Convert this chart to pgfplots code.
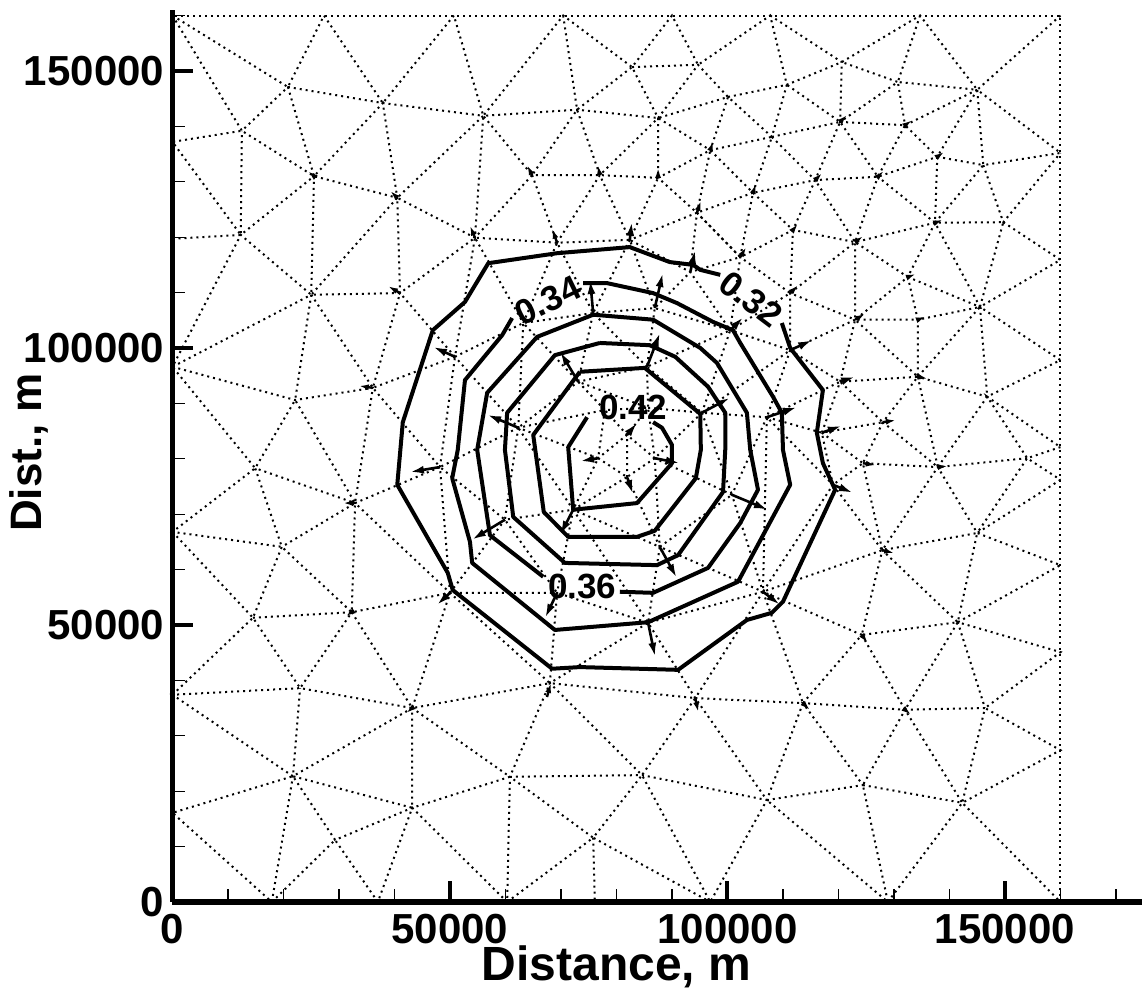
\documentclass[border=0pt]{standalone}
\usepackage{fontspec}
\setmainfont{Liberation Sans}
\usepackage{pgfplots}
\pgfplotsset{compat=1.18}
\usetikzlibrary{arrows.meta}

\newcommand\tickfont{\fontsize{21}{21}\selectfont\bfseries}
\newcommand\xlabfont{\fontsize{24}{24}\selectfont\bfseries}
\newcommand\ylabfont{\fontsize{22}{22}\selectfont\bfseries}
\newcommand\clabfont{\fontsize{17.5}{17.5}\selectfont\bfseries}

% vectors: x y u v (m)
\pgfplotstableread{
x y u v
76700 80100 -3240 -540
86900 80100 4500 -900
81900 76700 1080 -3070
81900 84300 1800 2170
72200 70800 -2340 -4510
87800 64100 3060 -5600
100800 73500 6490 -2710
95400 88300 5050 2710
85500 96600 2340 6140
73100 93900 -3240 5420
62300 85600 -5590 2350
59900 69000 -5950 -3610
69300 55800 -2160 -4510
85700 50400 1260 -6140
106400 56000 3060 -2350
107100 87500 5410 1805
111300 99600 3960 1805
100500 103200 2340 2350
86900 107200 1440 6320
75800 106300 -540 5960
50900 98400 -3960 1805
93300 113700 900 3970
82400 119500 360 3250
48200 78500 -5410 -900
117000 84700 3600 1260
119000 75300 3600 -1440
50000 55800 -2340 -2170
120300 93900 2700 900
}\bigvec
\pgfplotstableread{
x y u v
36100 92800 -2520 360
32900 72000 -2160 0
32300 52300 -1080 -720
43200 35000 -1080 -900
67480 37000 720 2530
94200 36800 540 -2530
113600 35900 1260 -1260
132000 34700 1080 -900
25500 131000 -1080 900
40500 127100 -1260 1260
54500 119900 -900 2170
41000 109900 -2160 1260
64800 131200 -900 1800
77000 131200 -360 1800
87500 130700 0 1800
96900 135700 540 1620
104600 128000 540 1620
94500 124400 720 2170
69300 119000 -900 2530
111800 121300 900 1080
102300 116400 1080 1800
111300 109900 1440 1440
120300 140800 1260 1260
132000 140200 1260 900
137800 134500 1260 900
115800 130300 1260 1260
127100 130900 1080 1080
137400 122600 1440 540
123000 119100 1440 1080
132500 112800 1440 540
123000 105100 1800 1080
134300 105100 1440 540
134300 94800 1800 -360
128000 86600 2340 360
124400 79200 2340 -360
137900 78500 1800 180
127900 63500 2160 -540
124200 48200 1080 -1440
}\smallvec

\begin{document}
\begin{tikzpicture}
\begin{axis}[
  name=ax,
  scale only axis,
  width=485.6pt, height=446pt,
  xmin=0, xmax=175000, ymin=0, ymax=161000,
  axis lines*=left,
  axis on top,
  clip=false,
  scaled x ticks=false, scaled y ticks=false,
  axis line style={line width=2.8pt, black},
  xtick={0,50000,100000,150000},
  xticklabels={0,50000,100000,150000},
  ytick={0,50000,100000,150000},
  yticklabels={0,50000,100000,150000},
  minor xtick={10000,20000,30000,40000,60000,70000,80000,90000,110000,120000,130000,140000,160000,170000},
  minor ytick={10000,20000,30000,40000,60000,70000,80000,90000,110000,120000,130000,140000,160000},
  tick align=inside,
  major tick length=10.5pt,
  minor tick length=6.5pt,
  major tick style={line width=2pt, black},
  minor tick style={line width=0.6pt, black},
  ticklabel style={font=\tickfont},
  xticklabel style={anchor=north, inner sep=0pt, yshift=-6pt},
  yticklabel style={anchor=east, inner sep=0pt, xshift=-4pt},
  xlabel={Distance, m},
  ylabel={Dist., m},
  xlabel style={font=\xlabfont, at={(axis description cs:0.4571,-0.073)}, anchor=center, inner sep=0pt},
  ylabel style={font=\ylabfont, at={(axis description cs:-0.1480,0.5040)}, anchor=center, inner sep=0pt},
  meshl/.style={black, line width=1pt, dash pattern=on 1pt off 2pt},
  cline/.style={black, line width=2pt, line join=round},
]

% ---- triangular mesh (dotted) ----
\addplot[meshl] coordinates {(0,0)(160000,0)(160000,160000)(0,160000)(0,0)};
\addplot[meshl] coordinates {(0,160000)(20800,147100)(27300,160000)(37900,144200)(50700,160000)(56000,141900)(70400,160000)(82800,150700)(90000,160000)(94700,151100)(107700,160000)(110700,147500)(120600,151600)(134700,160000)(145000,146600)(160000,160000)};
\addplot[meshl] coordinates {(0,160000)(12500,139200)(20800,147100)(37900,144200)(56000,141900)(40500,127100)(54500,119900)(56000,141900)};
\addplot[meshl] coordinates {(20800,147100)(25500,131000)(37900,144200)(40500,127100)(25500,131000)(12500,139200)(0,137200)(12300,120400)(12500,139200)};
\addplot[meshl] coordinates {(0,119700)(12300,120400)(25500,131000)(25000,109600)(40500,127100)(41000,109900)(54500,119900)(50900,98400)(41000,109900)(25000,109600)(12300,120400)(0,96600)(25000,109600)(22100,90600)};
\addplot[meshl] coordinates {(25000,109600)(36100,92800)(41000,109900)};
\addplot[meshl] coordinates {(0,96600)(22100,90600)(36100,92800)(32900,72000)(22100,90600)(14900,78300)(0,96600)};
\addplot[meshl] coordinates {(50900,98400)(36100,92800)(48200,78500)(32900,72000)(14900,78300)(19700,64100)(0,66800)(14900,78300)};
\addplot[meshl] coordinates {(0,66800)(14500,51300)(19700,64100)(32900,72000)(32300,52300)(19700,64100)};
\addplot[meshl] coordinates {(14500,51300)(32300,52300)(50000,55800)(32900,72000)};
\addplot[meshl] coordinates {(50000,55800)(48200,78500)(50900,98400)};
\addplot[meshl] coordinates {(0,37400)(14500,51300)(23000,38600)(32300,52300)(43200,35000)(50000,55800)(68000,39500)(43200,35000)(23000,38600)(0,37400)(21700,22700)(23000,38600)};
\addplot[meshl] coordinates {(43200,35000)(21700,22700)(43200,17000)(43200,35000)(60800,22600)(43200,17000)(29300,11200)(21700,22700)(0,16100)(17900,0)(21700,22700)};
\addplot[meshl] coordinates {(17900,0)(29300,11200)(37000,0)(43200,17000)(60300,0)(60800,22600)(68000,39500)(84600,22900)(94200,36800)(68000,39500)};
\addplot[meshl] coordinates {(60800,22600)(84600,22900)(107100,18400)(94200,36800)(113600,35900)(107100,18400)(96900,0)(84600,22900)(75800,11600)(60800,22600)};
\addplot[meshl] coordinates {(60300,0)(75800,11600)(96900,0)};
\addplot[meshl] coordinates {(75800,11600)(76100,0)};
\addplot[meshl] coordinates {(107100,18400)(124400,21100)(113600,35900)(132000,34700)(124400,21100)(128900,0)(107100,18400)};
\addplot[meshl] coordinates {(124400,21100)(142300,17900)(132000,34700)(146400,35000)(142300,17900)(160000,27400)(146400,35000)(160000,45100)(141500,50500)(146400,35000)};
\addplot[meshl] coordinates {(128900,0)(142300,17900)(160000,0)};
\addplot[meshl] coordinates {(113600,35900)(124200,48200)(132000,34700)(141500,50500)(124200,48200)(127900,63500)(141500,50500)(145000,66600)(127900,63500)(119000,75300)(124400,79200)(127900,63500)(137900,78500)(145000,66600)(160000,60800)(141500,50500)};
\addplot[meshl] coordinates {(160000,76200)(145000,66600)(154000,80100)(160000,76200)};
\addplot[meshl] coordinates {(160000,82100)(154000,80100)(146800,91200)(160000,82100)};
\addplot[meshl] coordinates {(154000,80100)(137900,78500)(146800,91200)(160000,97800)(145500,107400)(146800,91200)(134300,94800)(137900,78500)(128000,86600)(134300,94800)(120300,93900)(128000,86600)(117000,84700)(120300,93900)(123000,105100)(134300,94800)(134300,105100)(145500,107400)(134300,94800)};
\addplot[meshl] coordinates {(128000,86600)(124400,79200)(137900,78500)};
\addplot[meshl] coordinates {(117000,84700)(124400,79200)};
\addplot[meshl] coordinates {(119000,75300)(117000,84700)(107100,87500)(119000,75300)(106400,56000)(127900,63500)};
\addplot[meshl] coordinates {(124200,48200)(106400,56000)(113600,35900)};
\addplot[meshl] coordinates {(107100,87500)(120300,93900)(111300,99600)(123000,105100)(111300,109900)(111300,99600)(100500,103200)(111300,109900)(102300,116400)(100500,103200)(93300,113700)(102300,116400)(94500,124400)(93300,113700)(82400,119500)(86900,107200)(93300,113700)};
\addplot[meshl] coordinates {(82400,119500)(75800,106300)(69300,119000)(63200,104500)(54500,119900)(69300,119000)(82400,119500)};
\addplot[meshl] coordinates {(50900,98400)(63200,104500)(75800,106300)(86900,107200)(100500,103200)};
\addplot[meshl] coordinates {(111300,99600)(107100,87500)(106400,56000)(85700,50400)(69300,55800)(59900,69000)(48200,78500)};
\addplot[meshl] coordinates {(106400,56000)(94200,36800)(85700,50400)(68000,39500)(69300,55800)(50000,55800)(59900,69000)};
\addplot[meshl] coordinates {(95400,88300)(100800,73500)(87800,64100)(72200,70800)(62300,85600)(73100,93900)(85500,96600)(95400,88300)};
\addplot[meshl] coordinates {(86900,80100)(81900,76700)(76700,80100)(77900,88800)(85700,89200)(86900,80100)};
\addplot[meshl] coordinates {(86900,80100)(81900,84300)(76700,80100)};
\addplot[meshl] coordinates {(81900,76700)(81900,84300)(77900,88800)};
\addplot[meshl] coordinates {(81900,84300)(85700,89200)};
\addplot[meshl] coordinates {(100800,73500)(86900,80100)(87800,64100)(81900,76700)(72200,70800)(76700,80100)(62300,85600)(77900,88800)(73100,93900)(85700,89200)(85500,96600)};
\addplot[meshl] coordinates {(85700,89200)(95400,88300)(86900,80100)};
\addplot[meshl] coordinates {(107100,87500)(95400,88300)(111300,99600)};
\addplot[meshl] coordinates {(95400,88300)(100500,103200)(85500,96600)(86900,107200)};
\addplot[meshl] coordinates {(85500,96600)(75800,106300)(73100,93900)(63200,104500)(62300,85600)(50900,98400)};
\addplot[meshl] coordinates {(62300,85600)(48200,78500)};
\addplot[meshl] coordinates {(62300,85600)(59900,69000)(72200,70800)(69300,55800)};
\addplot[meshl] coordinates {(72200,70800)(85700,50400)(87800,64100)(106400,56000)(100800,73500)(107100,87500)};
\addplot[meshl] coordinates {(70400,160000)(72900,143000)(82800,150700)(87500,141500)(94700,151100)(100100,145300)(87500,141500)(72900,143000)(56000,141900)(64800,131200)(72900,143000)(77000,131200)(87500,141500)(87500,130700)(77000,131200)(64800,131200)(54500,119900)};
\addplot[meshl] coordinates {(82800,150700)(94700,151100)};
\addplot[meshl] coordinates {(100100,145300)(110700,147500)(108000,138100)(100100,145300)(96900,135700)(87500,141500)};
\addplot[meshl] coordinates {(96900,135700)(108000,138100)(104600,128000)(96900,135700)(87500,130700)(94500,124400)(96900,135700)};
\addplot[meshl] coordinates {(104600,128000)(94500,124400)};
\addplot[meshl] coordinates {(64800,131200)(69300,119000)(77000,131200)(82400,119500)(87500,130700)};
\addplot[meshl] coordinates {(94500,124400)(82400,119500)};
\addplot[meshl] coordinates {(104600,128000)(111800,121300)(102300,116400)(104600,128000)};
\addplot[meshl] coordinates {(94500,124400)(102300,116400)};
\addplot[meshl] coordinates {(111800,121300)(111300,109900)};
\addplot[meshl] coordinates {(108000,138100)(120300,140800)(110700,147500)};
\addplot[meshl] coordinates {(108000,138100)(115800,130300)(104600,128000)};
\addplot[meshl] coordinates {(115800,130300)(111800,121300)(123000,119100)(111300,109900)};
\addplot[meshl] coordinates {(107700,160000)(120600,151600)(120300,140800)(130700,148000)(120600,151600)};
\addplot[meshl] coordinates {(134700,160000)(130700,148000)(145000,146600)(132000,140200)(130700,148000)};
\addplot[meshl] coordinates {(120300,140800)(132000,140200)(127100,130900)(120300,140800)(115800,130300)(127100,130900)(137800,134500)(132000,140200)};
\addplot[meshl] coordinates {(145000,146600)(137800,134500)(146100,133000)(145000,146600)(160000,135200)(146100,133000)(137400,122600)(137800,134500)};
\addplot[meshl] coordinates {(146100,133000)(149700,122700)(160000,135200)};
\addplot[meshl] coordinates {(149700,122700)(160000,115900)(145500,107400)(149700,122700)(137400,122600)(127100,130900)(123000,119100)(115800,130300)};
\addplot[meshl] coordinates {(137400,122600)(123000,119100)(132500,112800)(137400,122600)(145500,107400)(132500,112800)(123000,105100)(123000,119100)};
\addplot[meshl] coordinates {(132500,112800)(134300,105100)(123000,105100)};

% ---- contour lines ----
\addplot[cline] coordinates {(109800,104500)(111300,100000)(117200,92400)(116100,84700)(117200,79200)(119400,74400)(110000,54200)(108000,52200)(103500,50900)(91100,41900)(73400,42400)(68400,42100)(50500,56300)(49600,59400)(40500,75300)(41500,86600)(46900,103200)(52700,108300)(56900,115300)(69300,117100)(82400,118200)(89600,115500)(93800,115000)(95100,114100)(98700,113200)};
\addplot[cline] coordinates {(74000,111700)(78300,111700)(86600,109900)(90900,108100)(97400,104700)(101000,103200)(102300,100900)(108200,91200)(109800,88300)(110000,81600)(111300,75300)(101900,57800)(85700,50500)(68900,49100)(54000,61200)(53600,65000)(50400,76500)(51400,81600)(52700,94200)(59400,102300)(61200,105400)};
\addplot[cline] coordinates {(80600,56000)(86600,55800)(96500,60300)(102300,68400)(105500,74400)(104100,81600)(103500,88300)(98100,97300)(95100,100000)(86600,105100)(75800,106000)(65700,102000)(56700,91900)(54900,81600)(57200,66200)(66800,58700)};
\addplot[cline] coordinates {(77000,100900)(86000,100500)(90600,98400)(96500,93000)(99600,88300)(99600,81600)(99200,74000)(91100,62600)(87300,60800)(70700,61200)(61400,69500)(59900,81600)(60300,88300)(68900,98700)(77000,100900)};
\addplot[cline] coordinates {(73400,95700)(85100,96400)(95100,88100)(95200,81600)(94300,76500)(86900,67000)(83700,65900)(71300,65900)(66900,70400)(65000,84300)(73400,95700)};
\addplot[cline] coordinates {(86600,86600)(88200,85600)(90000,82500)(90000,79200)(83700,72000)(72200,70800)(71300,82100)(74700,87500)};

\node[font=\clabfont, inner sep=0pt, rotate=-37] at (axis cs:104250,108850) {0.32};
\node[font=\clabfont, inner sep=0pt, rotate=26] at (axis cs:67600,108550) {0.34};
\node[font=\clabfont, inner sep=0pt] at (axis cs:73800,57000) {0.36};
\node[font=\clabfont, inner sep=0pt] at (axis cs:83000,89200) {0.42};

% ---- vectors ----
\addplot[black, line width=1.3pt, quiver={u=\thisrow{u}, v=\thisrow{v}},
  -{Latex[length=7pt, width=4pt]}] table[x=x, y=y] {\bigvec};
\addplot[black, line width=1.2pt, quiver={u=\thisrow{u}, v=\thisrow{v}},
  -{Latex[length=5pt, width=3pt]}] table[x=x, y=y] {\smallvec};
\end{axis}
\pgfresetboundingbox
\useasboundingbox ([xshift=-86.25pt, yshift=-44pt]ax.south west) rectangle ++(571pt,495pt);
\end{tikzpicture}
\end{document}
